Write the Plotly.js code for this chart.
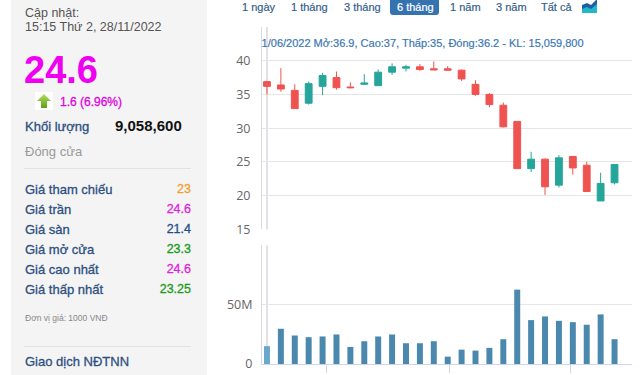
<!DOCTYPE html>
<html><head><meta charset="utf-8">
<script src="https://cdn.plot.ly/plotly-3.0.1.min.js"></script>
<style>
html,body{margin:0;padding:0;width:640px;height:375px;overflow:hidden;background:#fff;font-family:"Liberation Sans",Arial,sans-serif;}
.abs{position:absolute;white-space:nowrap;}
#panel{position:absolute;left:11px;top:0;width:196px;height:375px;background:#f4f4f4;}
.lbl{position:absolute;left:25px;font-size:13px;line-height:13px;color:#2d5080;white-space:nowrap;-webkit-text-stroke:0.3px #2d5080;}
.val{position:absolute;right:449px;font-size:12.5px;line-height:13px;white-space:nowrap;text-align:right;-webkit-text-stroke:0.3px currentColor;}
.sep{position:absolute;left:24px;width:167px;height:1px;background:#e2e2e2;}
.btn{position:absolute;top:1px;font-size:11px;line-height:12px;color:#345f8c;white-space:nowrap;-webkit-text-stroke:0.2px currentColor;}
#chart{position:absolute;left:210px;top:0;width:430px;height:390px;}
#tipwrap{position:absolute;left:262px;top:37px;width:370px;height:14px;overflow:hidden;}
#tip{position:absolute;left:-6.5px;top:0;font-size:11px;line-height:13px;color:#3b78b5;white-space:nowrap;-webkit-text-stroke:0.2px #3b78b5;}
</style>
</head><body>
<div id="panel"></div>
<div class="abs" style="left:25px;top:6.5px;font-size:12.5px;line-height:12.5px;color:#555;">Cập nhật:</div>
<div class="abs" style="left:25px;top:21px;font-size:12.5px;line-height:12.5px;color:#555;">15:15 Thứ 2, 28/11/2022</div>
<div class="abs" id="lastPrice" style="left:24px;top:51px;font-size:38px;line-height:38px;font-weight:bold;color:#f000f0;"></div>
<svg class="abs" style="left:35px;top:92px;" width="18" height="18" viewBox="0 0 18 18">
  <defs><linearGradient id="ga" x1="0" y1="0" x2="0" y2="1"><stop offset="0" stop-color="#b4e05a"/><stop offset="1" stop-color="#5f9e1c"/></linearGradient></defs>
  <rect x="0" y="0" width="18" height="18" fill="#fff"/>
  <polygon points="9,2 16,9 12,9 12,16 6,16 6,9 2,9" fill="url(#ga)"/>
</svg>
<div class="abs" id="change" style="left:60px;top:95.5px;font-size:12px;line-height:12px;color:#e000e0;-webkit-text-stroke:0.3px #e000e0;"></div>
<div class="lbl" style="top:120px;">Khối lượng</div>
<div class="abs" id="vol" style="left:115px;top:117.5px;font-size:15px;line-height:15px;font-weight:bold;color:#111;"></div>
<div class="abs" style="left:25px;top:145px;font-size:13px;line-height:13px;color:#999;">Đóng cửa</div>
<div class="sep" style="top:168px;"></div>
<div id="rows"></div>
<div class="abs" style="left:25px;top:313.5px;font-size:8.5px;line-height:9px;color:#888;">Đơn vị giá: 1000 VNĐ</div>
<div class="sep" style="top:346px;"></div>
<div class="lbl" style="top:355px;">Giao dịch NĐTNN</div>

<div id="btns"></div>
<div class="abs" style="left:390px;top:0;width:49px;height:15px;background:#3572b0;border-radius:0 0 3px 3px;"></div>
<svg class="abs" style="left:582px;top:0;" width="15" height="13" viewBox="0 0 15 13">
  <polygon points="0,13 0,7 5,5 9,7 15,1 15,13" fill="#22b8c8"/>
  <polygon points="0,5 5,3 9,5 15,-1 15,4 9,9 5,7 0,9" fill="#1d5fa6"/>
</svg>

<div id="chart"></div>
<div id="tipwrap"><div id="tip"></div></div>

<script>
// ---- data ----
const dates = ['2022-06-01','2022-06-08','2022-06-15','2022-06-22','2022-06-29','2022-07-06','2022-07-13','2022-07-20','2022-07-27','2022-08-03','2022-08-10','2022-08-17','2022-08-24','2022-08-31','2022-09-07','2022-09-14','2022-09-21','2022-09-28','2022-10-05','2022-10-12','2022-10-19','2022-10-26','2022-11-02','2022-11-09','2022-11-16','2022-11-23'];
const openP  = [36.9,36.4,35.6,33.7,36.2,37.5,36.1,36.5,36.3,38.3,38.9,39.1,38.8,38.8,38.6,36.5,35.0,33.4,31.0,24.0,25.4,21.55,25.8,24.5,19.2,21.9];
const highP  = [37.0,38.9,36.5,36.9,38.2,38.4,36.8,38.0,38.7,39.6,39.4,39.5,39.9,39.2,38.7,37.1,35.2,33.8,31.0,26.5,25.5,26.0,25.9,25.0,23.4,24.6];
const lowP   = [35.0,35.4,32.9,33.5,34.9,35.7,35.9,36.4,36.3,37.9,38.4,38.5,38.6,38.6,37.0,34.8,33.1,30.1,24.0,23.5,20.1,21.2,23.1,20.6,19.2,21.65];
const closeP = [36.2,35.8,32.9,36.6,37.8,36.0,36.0,36.7,38.3,39.1,39.1,38.7,38.65,38.6,37.3,35.0,33.5,30.2,24.0,25.4,21.3,25.6,24.1,20.6,21.8,24.6];
const volume = [15059800,29700000,24000000,22600000,23200000,24900000,14400000,19200000,23200000,24900000,17500000,17500000,19200000,6200000,12100000,11300000,13600000,20900000,62700000,37000000,40100000,36400000,35300000,33100000,41800000,20900000];

const priceTicks = [15,20,25,30,35,40,45];
const priceTickText = ['15','20','25','30','35','40',''];
const volTicks = [0,50000000,100000000];
const volTickText = ['0','50M',''];
const monthTicks = ['2022-07-01','2022-09-01','2022-11-01'];
const monthTickText = ['07/22','09/22','11/22'];

const rangeButtons = ['1 ngày','1 tháng','3 tháng','6 tháng','1 năm','3 năm','Tất cả'];
const buttonLeft = [242,291,344,397,450,496,541];
const selectedButton = 3;

const quoteLabels = ['Giá tham chiếu','Giá trần','Giá sàn','Giá mở cửa','Giá cao nhất','Giá thấp nhất'];
const quoteValues = ['23','24.6','21.4','23.3','24.6','23.25'];
const quoteColors = ['#f0a030','#e020e0','#1f4e85','#1a9a1a','#e020e0','#1a9a1a'];
const lastPrice = '24.6';
const changeText = '1.6 (6.96%)';
const dayVolume = 9058600;

// ---- left panel ----
document.getElementById('lastPrice').textContent = lastPrice;
document.getElementById('change').textContent = changeText;
document.getElementById('vol').textContent = dayVolume.toLocaleString('en-US');
let rh = '';
quoteLabels.forEach((l,i)=>{
  const top = 183 + i*20;
  rh += `<div class="lbl" style="top:${top}px;">${l}</div>`;
  rh += `<div class="val" style="top:${top}px;color:${quoteColors[i]};">${quoteValues[i]}</div>`;
});
document.getElementById('rows').innerHTML = rh;

// ---- buttons ----
let bh = '';
rangeButtons.forEach((b,i)=>{
  const col = i===selectedButton ? '#fff' : '#345f8c';
  bh += `<div class="btn" style="left:${buttonLeft[i]}px;color:${col};z-index:${i===selectedButton?2:1};">${b}</div>`;
});
document.getElementById('btns').innerHTML = bh;

// ---- tooltip ----
const d0 = dates[0].split('-');
document.getElementById('tip').textContent =
  `${d0[2]}/${d0[1]}/${d0[0]} Mở:${openP[0]}, Cao:${highP[0]}, Thấp:${lowP[0]}, Đóng:${closeP[0]} - KL: ${volume[0].toLocaleString('en-US')}`;

// ---- chart ----
const UP='#26a69a', DOWN='#ef5350';
const volColors = volume.map((v,i)=> i===0 ? '#6ba6cc' : '#4a88ae');
const xRange = ['2022-05-29 12:00','2022-12-01 19:00'];

const traces = [
  {type:'candlestick', x:dates, open:openP, high:highP, low:lowP, close:closeP,
   xaxis:'x', yaxis:'y', whiskerwidth:0, hoverinfo:'skip',
   increasing:{line:{color:UP,width:1},fillcolor:UP},
   decreasing:{line:{color:DOWN,width:1},fillcolor:DOWN}},
  {type:'bar', x:dates, y:volume, xaxis:'x2', yaxis:'y2', marker:{color:volColors}, hoverinfo:'skip'}
];

const layout = {
  width:430, height:390,
  margin:{l:52,r:8,t:27,b:26},
  paper_bgcolor:'rgba(0,0,0,0)', plot_bgcolor:'#fff',
  showlegend:false,
  font:{family:'"Open Sans", sans-serif', size:12.5, color:'#666'},
  bargap:0.57,
  xaxis:{type:'date', range:xRange, anchor:'y', showticklabels:false, showgrid:false, zeroline:false,
         showline:false, rangeslider:{visible:false}, fixedrange:true},
  yaxis:{domain:[0.3997,1], range:[15,45], tickmode:'array', tickvals:priceTicks, ticktext:priceTickText,
         gridcolor:'#e6e6e6', showline:true, linecolor:'#d5dce8', zeroline:false, ticks:'', ticklabelstandoff:8, fixedrange:true},
  xaxis2:{type:'date', range:xRange, anchor:'y2', matches:'x', tickmode:'array', tickvals:monthTicks, ticktext:monthTickText,
          showgrid:false, showline:true, linecolor:'#ccd6eb', ticks:'outside', ticklen:8, tickcolor:'#ccd6eb', zeroline:false, fixedrange:true},
  yaxis2:{domain:[0,0.352], range:[0,100000000], tickmode:'array', tickvals:volTicks, ticktext:volTickText,
          gridcolor:'#e6e6e6', showline:true, linecolor:'#d5dce8', zeroline:false, ticks:'', ticklabelstandoff:6, fixedrange:true},
  shapes:[
    {type:'line', xref:'x', x0:dates[0], x1:dates[0], yref:'y domain', y0:0, y1:1, line:{color:'#c4c4c4',width:1}, layer:'below'},
    {type:'line', xref:'x2', x0:dates[0], x1:dates[0], yref:'y2 domain', y0:0, y1:1, line:{color:'#c4c4c4',width:1}, layer:'below'}
  ]
};
Plotly.newPlot('chart', traces, layout, {displayModeBar:false, staticPlot:true});
</script>
</body></html>
